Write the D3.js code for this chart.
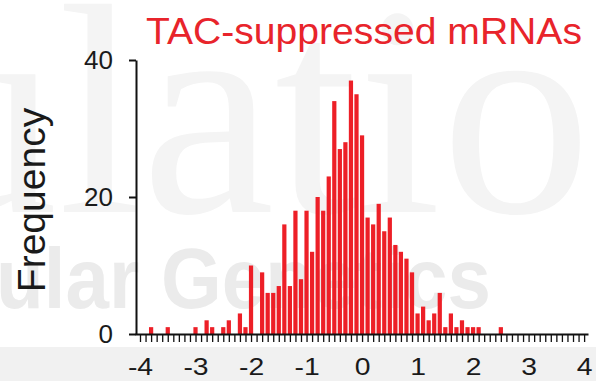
<!DOCTYPE html>
<html>
<head>
<meta charset="utf-8">
<script src="https://cdn.jsdelivr.net/npm/d3@7"></script>
<style>
  html, body { margin: 0; padding: 0; background: #fff; }
  svg { display: block; font-family: "Liberation Sans", Arial, sans-serif; }
</style>
</head>
<body>
<div id="chart"></div>
<script>
// histogram bins: centre of the first bin and bin width (log2 fold change)
const binStart = -4;
const binWidth = 0.1;
// counts per bin, from -4.0 to 4.0
const counts = [
  0, 0, 1, 0, 0, 1, 0, 0, 0, 0,
  1, 0, 2, 1, 0, 1, 2, 0, 3, 1,
  10, 0, 9, 6, 6, 7, 16, 7, 18, 8,
  18, 12, 20, 18, 23, 34, 27, 28, 37, 35,
  29, 17, 16, 19, 15, 17, 13, 12, 11, 9,
  3, 4, 2, 3, 6, 1, 3, 1, 2, 1,
  1, 1, 0, 0, 0, 1, 0, 0, 0, 0,
  0, 0, 0, 0, 0, 0, 0, 0, 0, 0,
  0
];
const xTickLabels = [-4, -3, -2, -1, 0, 1, 2, 3, 4];
const yTickLabels = [0, 20, 40];
const title = "TAC-suppressed mRNAs";
const yTitle = "Frequency";

const width = 596;
const height = 381;

const svg = d3.select('#chart')
    .append('svg')
    .attr('width', width)
    .attr('height', height);

// faint journal watermark behind the plot
svg.append('rect')
    .attr('x', 0).attr('y', 347)
    .attr('width', width).attr('height', height - 347)
    .attr('fill', '#f1f1f1');
svg.append('text')
    .attr('x', -92).attr('y', 212)
    .attr('fill', '#f4f4f4')
    .style('font-family', '"Liberation Serif", serif')
    .style('font-size', '300px')
    .text('ulatio');
svg.append('text')
    .attr('x', -4).attr('y', 308)
    .attr('fill', '#ebebeb')
    .attr('textLength', 495)
    .attr('lengthAdjust', 'spacingAndGlyphs')
    .style('font-weight', 'bold')
    .style('font-size', '85px')
    .text('ular Genetics');

// scales
const x = d3.scaleLinear()
    .domain([-4.09, 4.07])
    .range([135, 588]);

const y = d3.scaleLinear()
    .domain([0, 40])
    .range([334, 60]);

const bins = counts.map((c, i) => ({ x0: binStart + i * binWidth, count: c }));
const barW = (x(binWidth) - x(0)) * 0.76;

// bars
svg.append('g')
    .selectAll('rect')
    .data(bins.filter(d => d.count > 0))
    .join('rect')
    .attr('x', d => x(d.x0) - barW / 2)
    .attr('y', d => y(d.count))
    .attr('width', barW)
    .attr('height', d => y(0) - y(d.count))
    .attr('fill', '#ed1f27');

// x axis: minor ticks every bin, labels on integers
const minorTicks = d3.range(-40, 41).map(i => i / 10);
const xAxis = svg.append('g')
    .attr('transform', `translate(0, ${y(0)})`)
    .call(d3.axisBottom(x)
        .tickValues(minorTicks)
        .tickSize(8)
        .tickPadding(16)
        .tickSizeOuter(0)
        .tickFormat(d => xTickLabels.includes(Math.round(d * 10) / 10) ? String(Math.round(d)) : ''));
xAxis.select('.domain').attr('stroke', '#111').attr('stroke-width', 2);
xAxis.selectAll('.tick line').attr('stroke', '#111').attr('stroke-width', 1.3);
xAxis.selectAll('text')
    .attr('fill', '#1a1a1a')
    .attr('transform', 'scale(1.18, 1)')
    .style('font-size', '24px');

// y axis
const yAxis = svg.append('g')
    .attr('transform', `translate(136, 0)`)
    .call(d3.axisLeft(y)
        .tickValues(yTickLabels)
        .tickSize(7)
        .tickPadding(16)
        .tickSizeOuter(0)
        .tickFormat(d => String(d)));
yAxis.select('.domain').attr('stroke', '#111').attr('stroke-width', 2);
yAxis.selectAll('.tick line').attr('stroke', '#111').attr('stroke-width', 2);
yAxis.selectAll('text')
    .attr('fill', '#1a1a1a')
    .style('font-size', '26px');

// titles
svg.append('text')
    .attr('x', 364)
    .attr('y', 44)
    .attr('text-anchor', 'middle')
    .attr('fill', '#e8242b')
    .attr('textLength', 436)
    .attr('lengthAdjust', 'spacingAndGlyphs')
    .style('font-size', '37px')
    .text(title);

svg.append('text')
    .attr('transform', 'translate(45, 200) rotate(-90)')
    .attr('text-anchor', 'middle')
    .attr('fill', '#1a1a1a')
    .style('font-size', '39px')
    .text(yTitle);
</script>
</body>
</html>
